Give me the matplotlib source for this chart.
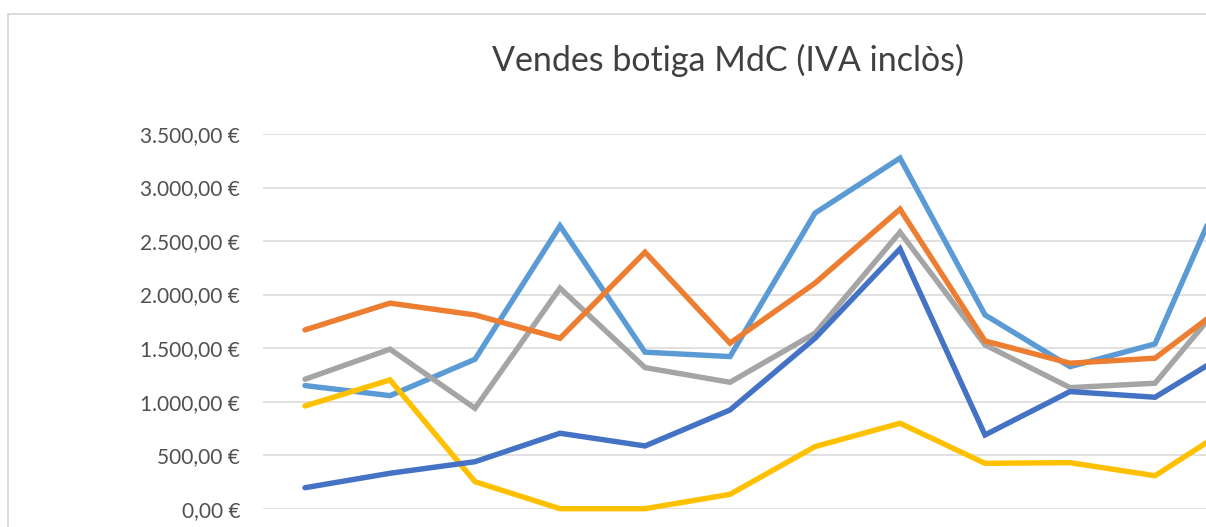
import matplotlib
matplotlib.use("Agg")
import matplotlib.pyplot as plt
from matplotlib.patches import Rectangle
from matplotlib.ticker import FuncFormatter

# monthly sales, five series (Office default palette order)
months = ["gen", "febr", "març", "abr", "maig", "juny",
          "jul", "ag", "set", "oct", "nov", "des"]
serie_1 = [196, 331, 439, 705, 586, 922, 1592, 2427, 689, 1094, 1041, 1525]
serie_2 = [1670, 1920, 1810, 1592, 2396, 1546, 2107, 2798, 1567, 1359, 1406, 2005]
serie_3 = [1209, 1490, 938, 2060, 1318, 1181, 1639, 2583, 1530, 1131, 1172, 2121]
serie_4 = [960, 1203, 252, 0, 0, 134, 580, 798, 424, 430, 308, 818]
serie_5 = [1150, 1056, 1396, 2642, 1462, 1421, 2761, 3275, 1810, 1327, 1539, 3347]

series = [serie_1, serie_2, serie_3, serie_4, serie_5]
colors = ["#4472C4", "#ED7D31", "#A5A5A5", "#FFC000", "#5B9BD5"]
yticks = [0, 500, 1000, 1500, 2000, 2500, 3000, 3500]

W, H = 1206, 527
plt.rcParams["font.family"] = ["Lato", "DejaVu Sans"]

fig = plt.figure(figsize=(W / 100, H / 100), dpi=100)
fig.patch.set_facecolor("white")

# chart area border (the picture is cropped on the right and bottom)
fig.patches.append(Rectangle((8 / W, -0.2), 2.0, 1.2 - 14 / H,
                             transform=fig.transFigure, fill=False,
                             edgecolor="#D9D9D9", linewidth=1.3))

left, right = 262.5 / W, 1282.5 / W
bottom, top = (H - 508.7) / H, (H - 134) / H
ax = fig.add_axes([left, bottom, right - left, top - bottom])

x = list(range(len(months)))
# first series drawn on top
for i, (vals, col) in enumerate(zip(series, colors)):
    ax.plot(x, vals, color=col, linewidth=3.9, solid_joinstyle="miter",
            solid_capstyle="round", zorder=10 - i, clip_on=False)

ax.set_xlim(-0.5, len(months) - 0.5)
ax.set_ylim(0, 3500)
ax.set_yticks(yticks)
ax.yaxis.set_major_formatter(FuncFormatter(
    lambda v, p: f"{v:,.2f} €".replace(",", "X").replace(".", ",").replace("X", ".")))
ax.set_xticks([])
ax.grid(axis="y", color="#D9D9D9", linewidth=1.1, zorder=0)
ax.set_axisbelow(True)
ax.tick_params(axis="y", length=0, pad=16, labelsize=15, labelcolor="#505050")
for s in ax.spines.values():
    s.set_visible(False)

fig.text(728 / W, (H - 60) / H, "Vendes botiga MdC (IVA inclòs)",
         ha="center", va="center", fontsize=24.5, color="#404040")

fig.savefig("out.png", dpi=100)
